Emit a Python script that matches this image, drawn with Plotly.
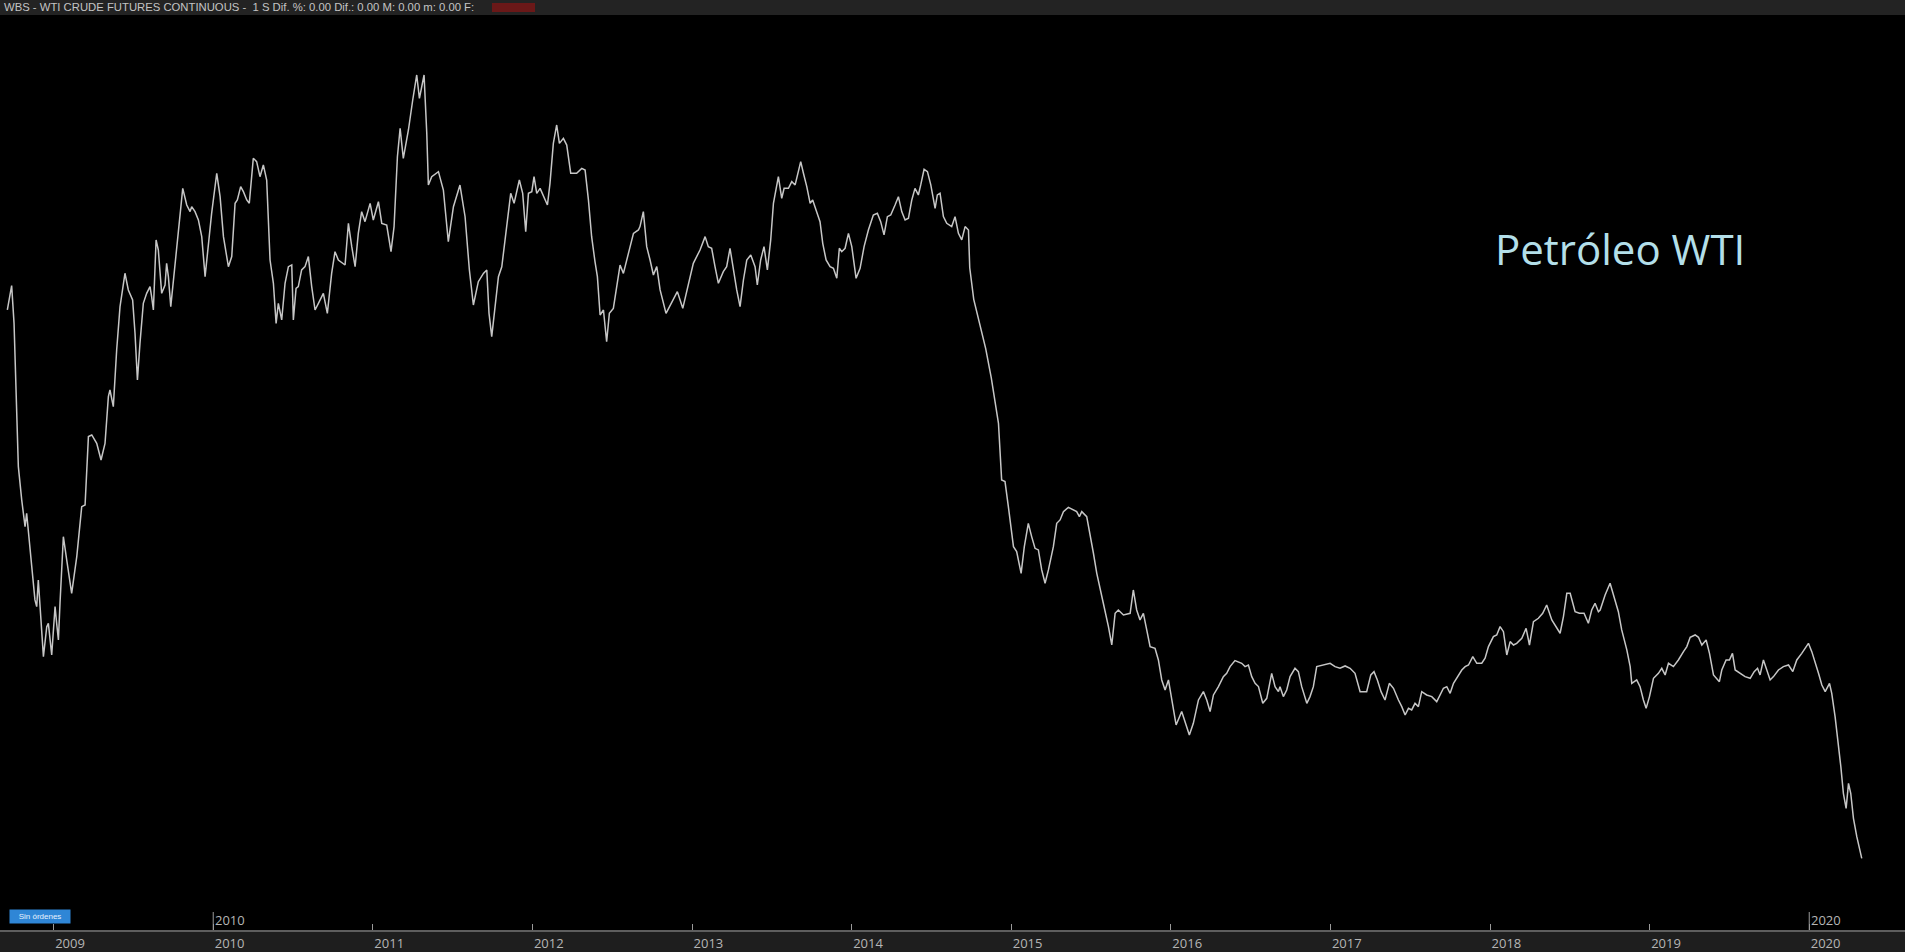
import plotly.graph_objects as go

# ---- data (x = decimal year, y = price, USD) ----
year_2008_2010 = [2008.710, 2008.737, 2008.752, 2008.758, 2008.769, 2008.779, 2008.800, 2008.821, 2008.831, 2008.842,
                  2008.863, 2008.883, 2008.894, 2008.904, 2008.915, 2008.936, 2008.957, 2008.967, 2008.988, 2009.009,
                  2009.019, 2009.030, 2009.040, 2009.061, 2009.082, 2009.113, 2009.145, 2009.176, 2009.197, 2009.218,
                  2009.239, 2009.270, 2009.297, 2009.322, 2009.343, 2009.353, 2009.374, 2009.395, 2009.416, 2009.447,
                  2009.468, 2009.495, 2009.510, 2009.525, 2009.541, 2009.562, 2009.583, 2009.604, 2009.614, 2009.625,
                  2009.642, 2009.656, 2009.677, 2009.698, 2009.708, 2009.719, 2009.734, 2009.750, 2009.782, 2009.809,
                  2009.834, 2009.855, 2009.865, 2009.886, 2009.907, 2009.928, 2009.949, 2009.970, 2009.990, 2010.022,
                  2010.043, 2010.064, 2010.095, 2010.116, 2010.137, 2010.151, 2010.172, 2010.189, 2010.210, 2010.226,
                  2010.241, 2010.251, 2010.272, 2010.293, 2010.314, 2010.335, 2010.356, 2010.377, 2010.394, 2010.408,
                  2010.429, 2010.450, 2010.471, 2010.492, 2010.502, 2010.519, 2010.533, 2010.554, 2010.575, 2010.596,
                  2010.617, 2010.638, 2010.659, 2010.680]
price_2008_2010 = [85.0, 88.0, 83.33, 79.21, 71.80, 65.62, 61.50, 58.20, 59.85, 57.79,
                   53.26, 49.14, 48.31, 51.61, 47.90, 42.13, 45.84, 46.25, 42.34, 48.31,
                   46.25, 44.19, 48.72, 56.96, 54.08, 49.96, 54.49, 60.67, 60.88, 69.33,
                   69.53, 68.50, 66.44, 68.50, 74.27, 75.09, 73.03, 80.04, 85.39, 89.52,
                   87.45, 86.22, 82.10, 76.33, 80.86, 85.81, 87.04, 87.87, 86.63, 84.98,
                   93.64, 92.40, 87.04, 88.07, 90.75, 89.10, 85.39, 88.69, 94.87, 100.02,
                   97.96, 97.14, 97.76, 97.14, 96.11, 94.05, 89.10, 93.22, 96.93, 101.88,
                   98.99, 94.05, 90.34, 91.58, 98.17, 98.58, 100.23, 99.61, 98.58, 98.17,
                   101.46, 103.73, 103.32, 101.46, 102.91, 101.05, 91.16, 88.28, 83.33, 85.81,
                   83.75, 88.28, 90.34, 90.55, 83.75, 87.66, 87.87, 89.93, 90.34, 91.58,
                   87.87, 84.98, 85.81, 86.63]

year_2010_2012 = [2010.690, 2010.715, 2010.742, 2010.763, 2010.784, 2010.826, 2010.847, 2010.868, 2010.889, 2010.909,
                  2010.930, 2010.951, 2010.983, 2011.003, 2011.035, 2011.056, 2011.087, 2011.114, 2011.133, 2011.154,
                  2011.171, 2011.191, 2011.223, 2011.250, 2011.275, 2011.292, 2011.321, 2011.338, 2011.348, 2011.369,
                  2011.411, 2011.442, 2011.473, 2011.505, 2011.546, 2011.578, 2011.605, 2011.630, 2011.661, 2011.693,
                  2011.714, 2011.728, 2011.745, 2011.766, 2011.787, 2011.808, 2011.839, 2011.864, 2011.885, 2011.918,
                  2011.939, 2011.958, 2011.975, 2011.996, 2012.010, 2012.027, 2012.048, 2012.069, 2012.094, 2012.110,
                  2012.131, 2012.152, 2012.169, 2012.194, 2012.215, 2012.240, 2012.277, 2012.309, 2012.330, 2012.351,
                  2012.371, 2012.392, 2012.407, 2012.424, 2012.445, 2012.465, 2012.482, 2012.507, 2012.528, 2012.549,
                  2012.570, 2012.601, 2012.633, 2012.664]
price_2010_2012 = [87.04, 84.57, 89.51, 92.19, 91.16, 90.54, 95.69, 92.81, 90.33, 94.45,
                   97.13, 95.90, 98.16, 96.10, 98.37, 95.69, 95.48, 92.19, 95.28, 103.93,
                   107.43, 103.73, 107.23, 110.94, 114.03, 111.14, 114.03, 106.82, 100.43, 101.46,
                   102.08, 99.81, 93.42, 97.75, 100.43, 96.51, 89.92, 85.60, 88.48, 89.51,
                   89.92, 84.57, 81.68, 85.39, 89.10, 90.33, 95.69, 99.40, 98.16, 101.05,
                   99.40, 94.66, 99.40, 99.60, 101.46, 99.40, 100.02, 98.99, 97.96, 100.63,
                   105.58, 107.85, 105.58, 106.20, 105.37, 101.87, 101.87, 102.49, 102.28, 98.57,
                   94.04, 90.95, 89.10, 84.36, 84.98, 81.06, 84.57, 85.18, 87.86, 90.54,
                   89.51, 91.98, 94.45, 94.87]

year_2012_2014 = [2012.674, 2012.695, 2012.716, 2012.737, 2012.758, 2012.779, 2012.800, 2012.837, 2012.873, 2012.908,
                  2012.942, 2012.977, 2013.008, 2013.050, 2013.082, 2013.102, 2013.123, 2013.144, 2013.165, 2013.196,
                  2013.217, 2013.238, 2013.259, 2013.280, 2013.301, 2013.322, 2013.343, 2013.368, 2013.395, 2013.409,
                  2013.430, 2013.451, 2013.472, 2013.493, 2013.510, 2013.531, 2013.541, 2013.562, 2013.577, 2013.604,
                  2013.625, 2013.646, 2013.660, 2013.681, 2013.698, 2013.719, 2013.740, 2013.756, 2013.777, 2013.802,
                  2013.819, 2013.840, 2013.865, 2013.886, 2013.907, 2013.923, 2013.938, 2013.959, 2013.980, 2014.001,
                  2014.028, 2014.053, 2014.078, 2014.105, 2014.136, 2014.161, 2014.182, 2014.203, 2014.224, 2014.245,
                  2014.272, 2014.293, 2014.314, 2014.335, 2014.356, 2014.377, 2014.397, 2014.418, 2014.433, 2014.454,
                  2014.475, 2014.496, 2014.523, 2014.537, 2014.554, 2014.575, 2014.596, 2014.627, 2014.648, 2014.669,
                  2014.690, 2014.711, 2014.732, 2014.740, 2014.765, 2014.800, 2014.840, 2014.875]
price_2012_2014 = [95.29, 97.14, 92.81, 91.16, 89.31, 90.34, 87.46, 84.57, 86.01, 87.25,
                   85.19, 88.28, 90.75, 92.40, 94.05, 92.81, 92.61, 90.34, 88.28, 89.72,
                   90.34, 92.61, 89.93, 87.46, 85.40, 88.69, 91.16, 91.78, 90.34, 88.07,
                   91.16, 92.81, 89.93, 93.64, 98.17, 100.64, 101.47, 98.79, 100.02, 100.02,
                   100.85, 100.44, 101.47, 103.32, 101.88, 100.23, 98.17, 98.58, 97.35, 95.90,
                   93.22, 91.16, 90.34, 90.13, 88.90, 92.61, 92.19, 92.61, 94.46, 92.81,
                   88.90, 90.13, 92.81, 94.87, 96.73, 96.93, 95.90, 94.26, 96.52, 96.73,
                   97.96, 98.99, 97.14, 96.11, 96.32, 98.58, 100.02, 99.20, 100.44, 102.37,
                   102.08, 100.44, 97.55, 99.20, 99.41, 96.52, 95.70, 95.29, 96.52, 94.46,
                   93.64, 95.29, 94.87, 90.20, 86.30, 83.40, 80.20, 76.60]

year_2014_2016 = [2014.899, 2014.920, 2014.940, 2014.961, 2014.982, 2015.014, 2015.034, 2015.062, 2015.082, 2015.107,
                  2015.128, 2015.149, 2015.170, 2015.191, 2015.212, 2015.233, 2015.264, 2015.285, 2015.306, 2015.327,
                  2015.358, 2015.389, 2015.410, 2015.427, 2015.442, 2015.473, 2015.494, 2015.515, 2015.536, 2015.557,
                  2015.577, 2015.609, 2015.630, 2015.651, 2015.671, 2015.703, 2015.745, 2015.765, 2015.786, 2015.807,
                  2015.828, 2015.849, 2015.870, 2015.901, 2015.922, 2015.943, 2015.964, 2015.985, 2016.006, 2016.033,
                  2016.068, 2016.089, 2016.116, 2016.141, 2016.173, 2016.204, 2016.225, 2016.246, 2016.267, 2016.298,
                  2016.329, 2016.350, 2016.371, 2016.402, 2016.444, 2016.465, 2016.486, 2016.507, 2016.528, 2016.549,
                  2016.576, 2016.601, 2016.632, 2016.653, 2016.674]
price_2014_2016 = [73.86, 70.98, 63.97, 63.77, 60.68, 55.73, 55.11, 52.43, 55.73, 58.61,
                   56.97, 55.52, 55.32, 52.85, 51.20, 52.85, 55.73, 58.61, 59.03, 60.06,
                   60.59, 60.26, 60.06, 59.44, 60.06, 59.44, 57.38, 54.91, 52.43, 50.37,
                   48.73, 45.84, 43.58, 47.49, 47.90, 47.28, 47.49, 50.37, 47.90, 46.67,
                   47.49, 45.43, 43.37, 43.16, 41.72, 39.25, 38.01, 39.25, 36.78, 33.69,
                   35.34, 34.10, 32.45, 33.89, 36.78, 37.81, 36.78, 35.34, 37.40, 38.43,
                   39.66, 40.07, 40.90, 41.64, 41.31, 40.90, 41.10, 39.66, 38.84, 38.43,
                   36.37, 36.98, 40.07, 38.43, 37.81]

year_2016_2018 = [2016.684, 2016.705, 2016.726, 2016.747, 2016.778, 2016.799, 2016.820, 2016.852, 2016.872, 2016.893,
                  2016.914, 2016.956, 2016.998, 2017.029, 2017.060, 2017.092, 2017.123, 2017.154, 2017.186, 2017.227,
                  2017.253, 2017.273, 2017.294, 2017.317, 2017.342, 2017.369, 2017.395, 2017.426, 2017.447, 2017.468,
                  2017.489, 2017.509, 2017.530, 2017.551, 2017.572, 2017.603, 2017.635, 2017.666, 2017.687, 2017.708,
                  2017.729, 2017.750, 2017.771, 2017.802, 2017.823, 2017.844, 2017.865, 2017.892, 2017.917, 2017.948,
                  2017.969, 2017.990, 2018.021, 2018.042, 2018.063, 2018.084, 2018.105, 2018.126, 2018.147, 2018.167,
                  2018.199, 2018.226, 2018.247, 2018.272, 2018.303, 2018.330, 2018.355, 2018.387, 2018.418, 2018.439,
                  2018.460, 2018.481, 2018.502, 2018.533, 2018.560, 2018.589, 2018.616, 2018.637, 2018.658, 2018.679]
price_2016_2018 = [38.42, 37.19, 38.01, 39.66, 40.69, 40.28, 38.42, 36.36, 37.19, 38.42,
                   40.90, 41.10, 41.31, 40.90, 40.69, 40.98, 40.69, 40.07, 37.80, 37.80,
                   39.87, 40.28, 39.25, 37.80, 36.77, 38.83, 38.22, 36.77, 35.95, 34.92,
                   35.74, 35.54, 36.36, 35.95, 37.80, 37.39, 37.19, 36.57, 37.39, 38.22,
                   38.42, 37.60, 38.83, 39.87, 40.48, 40.90, 41.10, 42.13, 41.31, 41.31,
                   41.93, 43.37, 44.60, 44.81, 45.84, 45.22, 42.34, 43.99, 43.57, 43.78,
                   44.40, 45.63, 43.57, 46.46, 46.87, 47.49, 48.52, 46.66, 45.63, 45.02,
                   47.08, 49.96, 49.96, 47.69, 47.49, 47.49, 46.25, 47.90, 48.72, 47.69]

year_2018_2020 = [2018.690, 2018.721, 2018.752, 2018.777, 2018.804, 2018.825, 2018.857, 2018.878, 2018.888, 2018.919,
                  2018.940, 2018.961, 2018.978, 2018.999, 2019.024, 2019.055, 2019.076, 2019.097, 2019.118, 2019.149,
                  2019.180, 2019.212, 2019.233, 2019.254, 2019.285, 2019.306, 2019.327, 2019.354, 2019.375, 2019.400,
                  2019.421, 2019.437, 2019.452, 2019.479, 2019.500, 2019.519, 2019.536, 2019.567, 2019.598, 2019.630,
                  2019.655, 2019.676, 2019.692, 2019.713, 2019.734, 2019.755, 2019.776, 2019.807, 2019.838, 2019.870,
                  2019.897, 2019.922, 2019.953, 2019.974, 2019.995, 2020.016, 2020.037, 2020.058, 2020.079, 2020.100,
                  2020.127, 2020.141, 2020.162, 2020.183, 2020.198, 2020.214, 2020.231, 2020.246, 2020.260, 2020.277,
                  2020.298, 2020.329]
price_2018_2020 = [47.90, 49.75, 51.20, 49.55, 47.69, 45.43, 42.96, 40.90, 38.83, 39.25,
                   38.42, 36.77, 35.74, 37.19, 39.45, 40.07, 40.69, 39.87, 41.31, 40.90,
                   41.72, 42.75, 43.37, 44.52, 44.81, 44.52, 43.57, 44.19, 42.54, 39.87,
                   39.45, 39.04, 40.48, 41.72, 41.72, 42.54, 40.48, 40.07, 39.66, 39.45,
                   40.28, 40.69, 39.87, 41.72, 40.48, 39.25, 39.66, 40.48, 40.90, 41.10,
                   40.28, 41.72, 42.54, 43.16, 43.78, 42.75, 41.51, 40.07, 38.63, 37.80,
                   38.83, 37.60, 34.71, 31.42, 28.53, 25.24, 23.38, 26.47, 25.24, 22.15,
                   19.88, 17.20]

tick_years = list(range(2009, 2021))
tick_labels = [str(y) for y in tick_years]
marker_years = [2010, 2020]

header_text = "WBS - WTI CRUDE FUTURES CONTINUOUS -  1 S Dif. %: 0.00 Dif.: 0.00 M: 0.00 m: 0.00 F:"
title_text = "Petróleo WTI"
badge_text = "Sin órdenes"

years = year_2008_2010 + year_2010_2012 + year_2012_2014 + year_2014_2016 + year_2016_2018 + year_2018_2020
prices = price_2008_2010 + price_2010_2012 + price_2012_2014 + price_2014_2016 + price_2016_2018 + price_2018_2020

W, H = 1905, 952
B = 22
PH = H - B

fig = go.Figure()
fig.add_trace(go.Scatter(x=years, y=prices, mode="lines",
                         line=dict(color="#c6c6c6", width=1.5),
                         hoverinfo="skip", showlegend=False))

shapes = [
    # header bar
    dict(type="rect", xref="paper", yref="paper", x0=0, x1=1, y0=1 - 15 / PH, y1=1,
         fillcolor="#232323", line=dict(width=0), layer="above"),
    dict(type="rect", xref="paper", yref="paper", x0=492 / W, x1=535 / W,
         y0=1 - 12 / PH, y1=1 - 3 / PH, fillcolor="#6a1818", line=dict(width=0), layer="above"),
]
for my in marker_years:
    shapes.append(dict(type="line", xref="x", yref="paper", x0=my, x1=my, y0=0, y1=18 / PH,
                       line=dict(color="#9a9a9a", width=1)))

annotations = [
    dict(text=header_text, xref="paper", yref="paper", x=2 / W, y=1 - 7.5 / PH,
         xanchor="left", yanchor="middle", showarrow=False,
         font=dict(family="Liberation Sans", size=11.3, color="#c4c4c4")),
    dict(text=title_text, xref="paper", yref="paper", x=1493 / W, y=(PH - 248) / PH,
         xanchor="left", yanchor="middle", showarrow=False,
         font=dict(family="Open Sans", size=42, color="#b3dfe9")),
    dict(text=badge_text, xref="paper", yref="paper", x=9 / W, y=(PH - 916) / PH,
         xanchor="left", yanchor="middle", showarrow=False, bgcolor="#2f86d6",
         width=58, height=11, borderpad=1,
         font=dict(family="Liberation Sans", size=8, color="#e8f2ff")),
]
for my in marker_years:
    annotations.append(dict(text=str(my), xref="x", yref="paper", x=my, y=(PH - 920) / PH,
                            xanchor="left", yanchor="middle", xshift=0, showarrow=False,
                            font=dict(family="Open Sans", size=13, color="#b5b5b5")))

fig.update_layout(
    width=W, height=H,
    margin=dict(l=0, r=0, t=0, b=B),
    paper_bgcolor="#1e1e1e", plot_bgcolor="#000000",
    showlegend=False, hovermode=False,
    shapes=shapes, annotations=annotations,
    xaxis=dict(range=[2008.664, 2020.600], tickmode="array", tickvals=tick_years, ticktext=tick_labels,
               ticks="inside", ticklen=6, tickcolor="#9a9a9a", tickwidth=1,
               ticklabelposition="outside right",
               tickfont=dict(family="Open Sans", size=13, color="#b5b5b5"),
               showgrid=False, zeroline=False, showline=True, linecolor="#5e5e5e", linewidth=2,
               automargin=False, fixedrange=True),
    yaxis=dict(range=[8.34, 123.3], visible=False, showgrid=False, zeroline=False, fixedrange=True),
)

fig.write_html("out.html", config={"displayModeBar": False},
               post_script="document.body.style.margin='0px';document.body.style.overflow='hidden';")
